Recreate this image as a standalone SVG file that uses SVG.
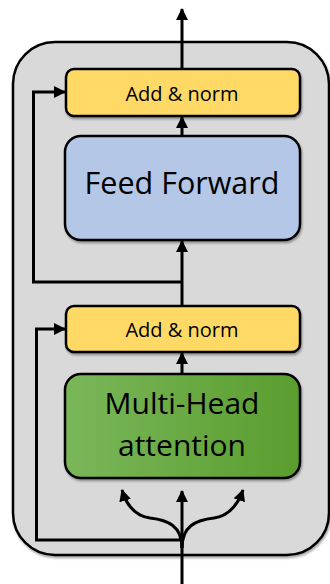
<svg xmlns="http://www.w3.org/2000/svg" width="330" height="584" viewBox="0 0 330 584">
<style>
.box{stroke:#000;stroke-width:2.5}
.lbl{font-family:"Open Sans","Noto Sans","Liberation Sans",sans-serif;fill:#000;text-anchor:middle}
.conn{fill:none;stroke:#000;stroke-width:3}
</style>
<defs>
<marker id="ah" viewBox="0 0 12 12" refX="11" refY="6" markerWidth="12" markerHeight="12" markerUnits="userSpaceOnUse" orient="auto">
<path d="M0,0 L12,6 L0,12 z" fill="#000"/>
</marker>
<linearGradient id="green" x1="0" y1="0" x2="1" y2="0">
<stop offset="0" stop-color="#7ab75a"/>
<stop offset="1" stop-color="#5a9d2e"/>
</linearGradient>
<filter id="sh" x="-10%" y="-10%" width="120%" height="130%">
<feDropShadow dx="1" dy="2" stdDeviation="1.2" flood-color="#000" flood-opacity="0.35"/>
</filter>
</defs>
<g id="outer">
<rect x="13" y="42" width="316" height="513" rx="42" fill="#d9d9d9" stroke="#000" stroke-width="2.5" filter="url(#sh)"/>
</g>
<g id="connectors">
<line class="conn" x1="182" y1="69" x2="182" y2="9" marker-end="url(#ah)"/>
<line class="conn" x1="182" y1="136" x2="182" y2="117" marker-end="url(#ah)"/>
<line class="conn" x1="182" y1="306" x2="182" y2="241" marker-end="url(#ah)"/>
<polyline class="conn" points="182,282 33.5,282 33.5,92 65,92" marker-end="url(#ah)"/>
<line class="conn" x1="182" y1="374" x2="182" y2="353" marker-end="url(#ah)"/>
<polyline class="conn" points="182,540 36.5,540 36.5,329 65,329" marker-end="url(#ah)"/>
<line class="conn" x1="182" y1="584" x2="182" y2="491" marker-end="url(#ah)"/>
<path class="conn" d="M182,548 C182,526 168,520 150,518 C136,516 127,507 122,490" marker-end="url(#ah)"/>
<path class="conn" d="M182,548 C182,526 196,520 214,518 C228,516 237,507 243,490" marker-end="url(#ah)"/>
</g>
<g id="addnorm_top">
<rect class="box" x="66" y="69" width="234" height="47" rx="8" fill="#ffd966" filter="url(#sh)"/>
<text class="lbl" x="182" y="101" font-size="20">Add &amp; norm</text>
</g>
<g id="feed_forward">
<rect class="box" x="65" y="136" width="235" height="104" rx="16" fill="#b4c7e7" filter="url(#sh)"/>
<text class="lbl" x="182" y="194" font-size="30.5">Feed Forward</text>
</g>
<g id="addnorm_bottom">
<rect class="box" x="66" y="306" width="234" height="46" rx="8" fill="#ffd966" filter="url(#sh)"/>
<text class="lbl" x="182" y="337" font-size="20">Add &amp; norm</text>
</g>
<g id="multihead">
<rect class="box" x="65" y="374" width="235" height="104" rx="16" fill="url(#green)" filter="url(#sh)"/>
<text class="lbl" x="182" y="414" font-size="30">Multi-Head</text>
<text class="lbl" x="182" y="456" font-size="30">attention</text>
</g>
</svg>
